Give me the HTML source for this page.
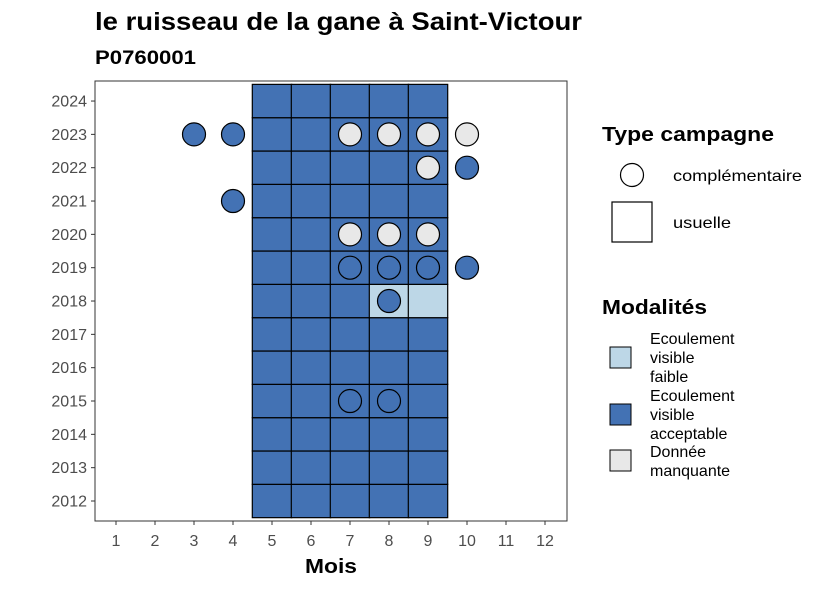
<!DOCTYPE html>
<html><head><meta charset="utf-8"><style>
body{margin:0;background:#fff;font-family:"Liberation Sans",sans-serif;}
svg text{font-family:"Liberation Sans",sans-serif;}
</style></head><body>
<svg id="c" width="826" height="590" xmlns="http://www.w3.org/2000/svg">
<text x="95" y="30" font-size="25" font-weight="bold" fill="#000" textLength="487" lengthAdjust="spacingAndGlyphs">le ruisseau de la gane à Saint-Victour</text>
<text x="95" y="64" font-size="19" font-weight="bold" fill="#000" textLength="101" lengthAdjust="spacingAndGlyphs">P0760001</text>
<rect x="95" y="81" width="472" height="440" fill="#fff" stroke="#333" stroke-width="1"/>
<g id="tiles"></g><g id="pts"></g><g id="axes"></g>
<text x="331" y="573" font-size="20" font-weight="bold" text-anchor="middle" textLength="52" lengthAdjust="spacingAndGlyphs">Mois</text>
<text x="602" y="141" font-size="20" font-weight="bold" textLength="172" lengthAdjust="spacingAndGlyphs">Type campagne</text>
<circle cx="632" cy="175" r="11.5" fill="#fff" stroke="#000" stroke-width="1.2"/>
<text x="673" y="181" font-size="16" textLength="129" lengthAdjust="spacingAndGlyphs">complémentaire</text>
<rect x="612" y="202" width="40" height="40" fill="#fff" stroke="#000" stroke-width="1.2"/>
<text x="673" y="228" font-size="16" textLength="58" lengthAdjust="spacingAndGlyphs">usuelle</text>
<text x="602" y="314" font-size="20" font-weight="bold" textLength="105" lengthAdjust="spacingAndGlyphs">Modalités</text>
<rect x="610" y="347" width="21" height="21" fill="#bdd7e7" stroke="#000"/>
<text font-size="16"><tspan x="650" y="344">Ecoulement</tspan><tspan x="650" y="363">visible</tspan><tspan x="650" y="382">faible</tspan></text>
<rect x="610" y="404" width="21" height="21" fill="#4372b4" stroke="#000"/>
<text font-size="16"><tspan x="650" y="401">Ecoulement</tspan><tspan x="650" y="420">visible</tspan><tspan x="650" y="439">acceptable</tspan></text>
<rect x="610" y="450" width="21" height="21" fill="#e8e8e8" stroke="#000"/>
<text font-size="16"><tspan x="650" y="457">Donnée</tspan><tspan x="650" y="476">manquante</tspan></text>
</svg>
<script>
const months=[1,2,3,4,5,6,7,8,9,10,11,12];
const years=[2012,2013,2014,2015,2016,2017,2018,2019,2020,2021,2022,2023,2024];
const tileMonths=[5,6,7,8,9];
const faibleTiles=[[8,2018],[9,2018]];
const ptMonth=[3,4,7,8,9,10,9,10,4,7,8,9,7,8,9,10,8,7,8];
const ptYear=[2023,2023,2023,2023,2023,2023,2022,2022,2021,2020,2020,2020,2019,2019,2019,2019,2018,2015,2015];
const ptMod=["a","a","m","m","m","m","m","a","a","m","m","m","a","a","a","a","a","a","a"];
const colors={a:"#4372b4",f:"#bdd7e7",m:"#e8e8e8"};
const xs=m=>116+(m-1)*39;
const ys=y=>501-(y-2012)*33.33;
const NS="http://www.w3.org/2000/svg";
function mk(t,a,p){const e=document.createElementNS(NS,t);for(const k in a)e.setAttribute(k,a[k]);p.appendChild(e);return e;}
const T=document.getElementById('tiles'),P=document.getElementById('pts'),A=document.getElementById('axes');
years.forEach(y=>tileMonths.forEach(m=>{
 const f=faibleTiles.some(t=>t[0]===m&&t[1]===y);
 const r=mk('rect',{x:xs(m)-19.7,y:ys(y)-16.67,width:39.4,height:33.33,fill:f?colors.f:colors.a,stroke:"#000","stroke-width":1.2},T);
 
 
}));
ptMonth.forEach((m,i)=>{
 const c=mk('circle',{cx:xs(m),cy:ys(ptYear[i]),r:11.5,fill:colors[ptMod[i]],stroke:"#000","stroke-width":1.2},P);
 
 
});
months.forEach(m=>{
 mk('line',{x1:xs(m),x2:xs(m),y1:521,y2:525,stroke:"#333"},A);
 const t=mk('text',{x:xs(m),y:546,"font-size":16,"text-anchor":"middle",fill:"#4d4d4d"},A);t.textContent=m;
 
 
});
years.forEach(y=>{
 mk('line',{x1:91,x2:95,y1:ys(y),y2:ys(y),stroke:"#333"},A);
 const t=mk('text',{x:87,y:ys(y)+5.5,"font-size":16,"text-anchor":"end",fill:"#4d4d4d"},A);t.textContent=y;
 
 
});
</script>
</body></html>
